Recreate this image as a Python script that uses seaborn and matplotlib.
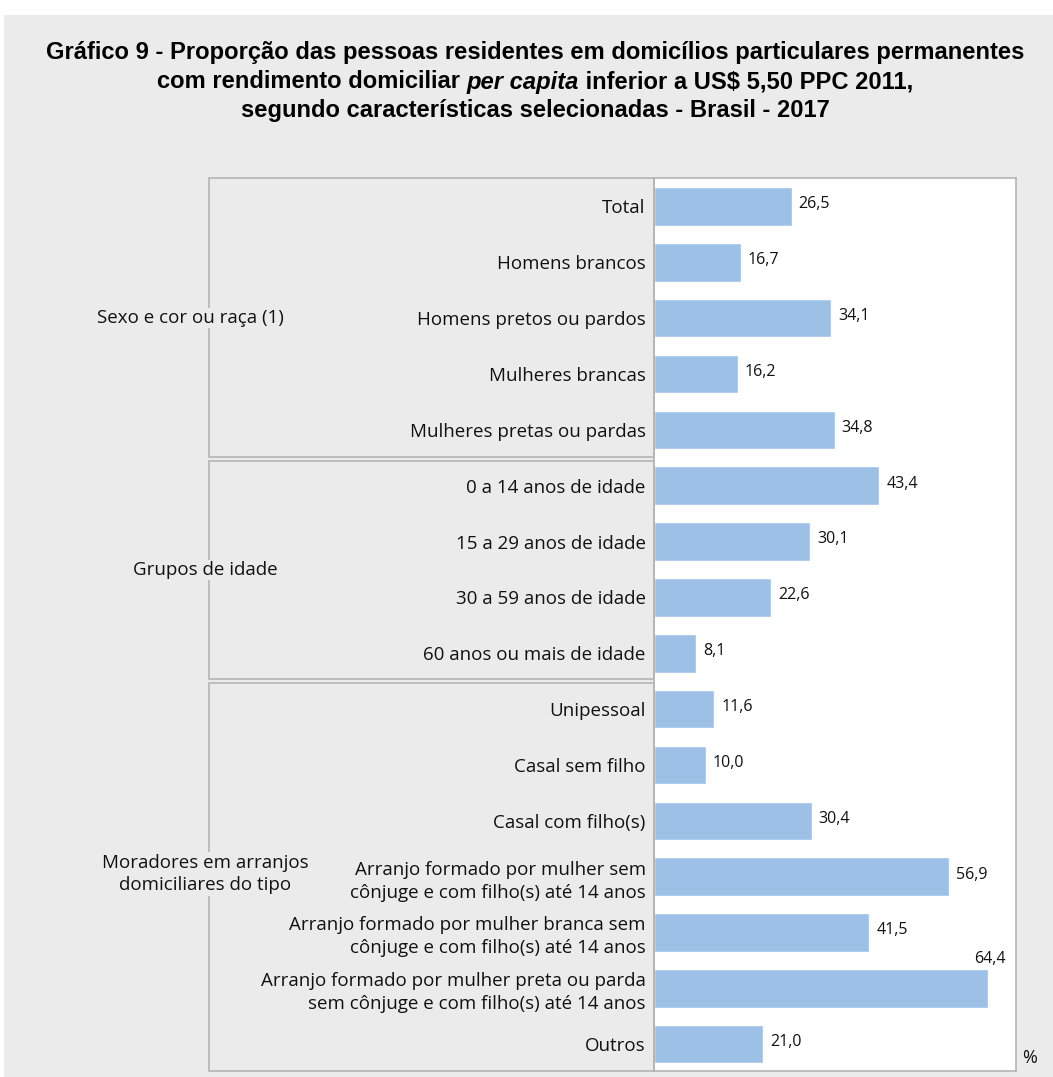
import matplotlib
matplotlib.use("Agg")
import matplotlib.pyplot as plt
import seaborn as sns
import pandas as pd
from matplotlib.patches import Rectangle

categories = [
    "Total",
    "Homens brancos",
    "Homens pretos ou pardos",
    "Mulheres brancas",
    "Mulheres pretas ou pardas",
    "0 a 14 anos de idade",
    "15 a 29 anos de idade",
    "30 a 59 anos de idade",
    "60 anos ou mais de idade",
    "Unipessoal",
    "Casal sem filho",
    "Casal com filho(s)",
    "Arranjo formado por mulher sem\ncônjuge e com filho(s) até 14 anos",
    "Arranjo formado por mulher branca sem\ncônjuge e com filho(s) até 14 anos",
    "Arranjo formado por mulher preta ou parda\nsem cônjuge e com filho(s) até 14 anos",
    "Outros",
]
values = [26.5, 16.7, 34.1, 16.2, 34.8, 43.4, 30.1, 22.6, 8.1, 11.6, 10.0, 30.4, 56.9, 41.5, 64.4, 21.0]
value_labels = ["26,5", "16,7", "34,1", "16,2", "34,8", "43,4", "30,1", "22,6", "8,1",
                "11,6", "10,0", "30,4", "56,9", "41,5", "64,4", "21,0"]
group_names = ["Sexo e cor ou raça (1)", "Grupos de idade", "Moradores em arranjos\ndomiciliares do tipo"]
group_sizes = [5, 4, 7]

sns.set_theme(style="white")
LFAM = ['Open Sans', 'DejaVu Sans']
plt.rcParams['font.family'] = LFAM

W, H = 1053, 1077
BG = "#ebebeb"
EDGE = "#b4b4b4"
TXT = "#111111"
LS = 13.5
fig = plt.figure(figsize=(W / 100, H / 100), dpi=100, facecolor="white")
fig.patches.append(Rectangle((4 / W, 0), 1 - 4 / W, 1 - 15 / H, transform=fig.transFigure,
                             facecolor=BG, edgecolor="none", zorder=-10))

ax_l, ax_r, ax_t, ax_b = 654, 1016, 178, 1071
ax = fig.add_axes([ax_l / W, 1 - ax_b / H, (ax_r - ax_l) / W, (ax_b - ax_t) / H])
ax.set_facecolor("white")

df = pd.DataFrame({"cat": categories, "val": values})
sns.barplot(data=df, y="cat", x="val", orient="h", color="#9dc0e6", width=0.69,
            saturation=1, ax=ax)
ax.set_xlim(0, 69.75)
ax.set_ylim(len(categories) - 1 + 0.48, -0.51)
ax.set_xlabel("")
ax.set_ylabel("")
ax.set_xticks([])
ax.tick_params(axis="y", length=0, pad=6, labelsize=LS, labelcolor=TXT)
for lab in ax.get_yticklabels():
    lab.set_linespacing(1.35)
for s in ax.spines.values():
    s.set_color(EDGE)
    s.set_linewidth(1.2)

for i, (v, lab) in enumerate(zip(values, value_labels)):
    if v > 60:
        ax.text(v + 0.4, i - 0.38, lab, ha="center", va="bottom", fontsize=11.5, color=TXT)
    else:
        ax.annotate(lab, (v, i), xytext=(5, 1.5), textcoords="offset points",
                    ha="left", va="center", fontsize=11.5, color=TXT)

# group boxes
boxes = [(178, 457), (461, 679), (683, 1071)]
label_pos = [(190, 318), (205, 570), (205, 874)]
for (y0, y1), name, (lx, ly) in zip(boxes, group_names, label_pos):
    fig.patches.append(Rectangle((209 / W, 1 - y1 / H), (ax_l - 209) / W, (y1 - y0) / H,
                                 transform=fig.transFigure, facecolor="none",
                                 edgecolor=EDGE, linewidth=1.2, zorder=1))
    fig.text(lx / W, 1 - ly / H, name, ha="center", va="center", fontsize=LS,
             color=TXT, multialignment="center", zorder=3, linespacing=1.35,
             bbox=dict(facecolor=BG, edgecolor="none", pad=1))

fig.text(1030 / W, 1 - 1058 / H, "%", ha="center", va="center", fontsize=13, color=TXT)

# title
tfam = ['Liberation Sans Narrow', 'Liberation Sans', 'DejaVu Sans']
tsize = 17.1
cx = 535 / W
fig.text(cx, 1 - 52 / H, "Gráfico 9 - Proporção das pessoas residentes em domicílios particulares permanentes",
         ha="center", va="center", fontsize=tsize, fontweight="bold", family=tfam, color="black")
fig.text(cx, 1 - 110 / H, "segundo características selecionadas - Brasil - 2017",
         ha="center", va="center", fontsize=tsize, fontweight="bold", family=tfam, color="black")
parts = [("com rendimento domiciliar ", "normal"), ("per capita", "italic"), (" inferior a US$ 5,50 PPC 2011,", "normal")]
fig.canvas.draw()
r = fig.canvas.get_renderer()
texts = []
widths = []
for s, st in parts:
    t = fig.text(0, 1 - 82 / H, s, ha="left", va="center", fontsize=tsize, fontweight="bold",
                 style=st, family=tfam, color="black")
    bb = t.get_window_extent(renderer=r)
    texts.append(t)
    widths.append(bb.width)
total = sum(widths)
x = cx * W - total / 2
for t, w in zip(texts, widths):
    t.set_x(x / W)
    x += w

fig.savefig("out.png", dpi=100, facecolor="white")
